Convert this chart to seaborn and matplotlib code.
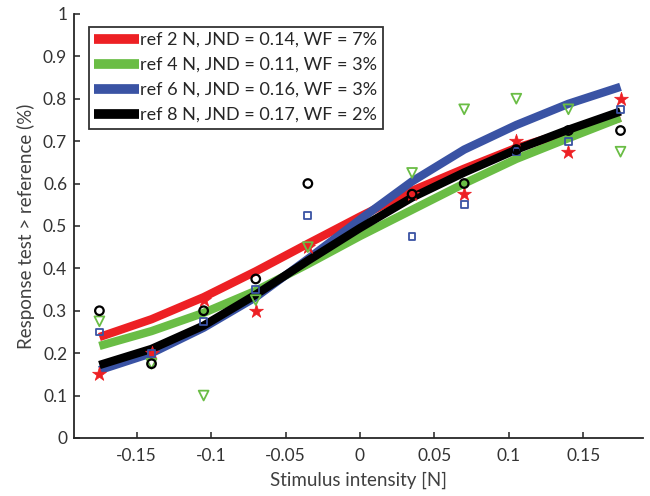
import numpy as np
import pandas as pd
import matplotlib
matplotlib.use("Agg")
import matplotlib.pyplot as plt
import seaborn as sns

# stimulus levels (test - reference) in N
stim = [-0.175, -0.14, -0.105, -0.07, -0.035, 0.035, 0.07, 0.105, 0.14, 0.175]

# measured proportions per reference force
resp_2N = [0.15, 0.2, 0.325, 0.3, 0.45, 0.575, 0.575, 0.7, 0.675, 0.8]
resp_4N = [0.275, 0.175, 0.1, 0.325, 0.45, 0.625, 0.775, 0.8, 0.775, 0.675]
resp_6N = [0.25, 0.2, 0.275, 0.35, 0.525, 0.475, 0.55, 0.675, 0.7, 0.775]
resp_8N = [0.3, 0.175, 0.3, 0.375, 0.6, 0.575, 0.6, 0.68, 0.725, 0.725]

# fitted psychometric curves
fit_x = [-0.175, -0.14, -0.105, -0.07, -0.035, 0.0, 0.035, 0.07, 0.105, 0.14, 0.175]
fit_2N = [0.238, 0.28, 0.332, 0.393, 0.458, 0.522, 0.583, 0.635, 0.684, 0.722, 0.755]
fit_4N = [0.217, 0.252, 0.295, 0.347, 0.41, 0.476, 0.538, 0.6, 0.658, 0.707, 0.755]
fit_6N = [0.16, 0.2, 0.26, 0.332, 0.422, 0.515, 0.605, 0.68, 0.738, 0.788, 0.828]
fit_8N = [0.172, 0.21, 0.265, 0.338, 0.418, 0.495, 0.567, 0.626, 0.68, 0.727, 0.77]

labels = ["ref 2 N, JND = 0.14, WF = 7%",
          "ref 4 N, JND = 0.11, WF = 3%",
          "ref 6 N, JND = 0.16, WF = 3%",
          "ref 8 N, JND = 0.17, WF = 2%"]
colors = ["#ED2024", "#6ABD45", "#3A53A4", "#000000"]

sns.set_style("ticks")
plt.rcParams["font.family"] = ["Lato", "DejaVu Sans"]
plt.rcParams["xtick.direction"] = "in"
plt.rcParams["ytick.direction"] = "in"

fig = plt.figure(figsize=(6.5, 4.96), dpi=100)
ax = fig.add_axes([0.114, 0.117, 0.875, 0.855])

fits = [fit_2N, fit_4N, fit_6N, fit_8N]

handles = []
for fit, col in zip(fits, colors):
    sns.lineplot(x=fit_x, y=fit, color=col, lw=6, ax=ax, zorder=2,
                 solid_joinstyle="round", solid_capstyle="butt")
    handles.append(ax.lines[-1])

# raw data markers
sns.scatterplot(x=stim, y=resp_2N, marker="*", s=110, color=colors[0],
                edgecolor=colors[0], linewidth=0.5, ax=ax, zorder=3)
sns.scatterplot(x=stim, y=resp_4N, marker="v", s=50, facecolor="none",
                edgecolor=colors[1], linewidth=1.3, ax=ax, zorder=3)
sns.scatterplot(x=stim, y=resp_6N, marker="s", s=24, facecolor="none",
                edgecolor=colors[2], linewidth=1.3, ax=ax, zorder=3)
sns.scatterplot(x=stim, y=resp_8N, marker="o", s=38, facecolor="none",
                edgecolor=colors[3], linewidth=1.6, ax=ax, zorder=3)

ax.set_xlim(-0.192, 0.19)
ax.set_ylim(0, 1)
ax.set_xticks([-0.15, -0.1, -0.05, 0, 0.05, 0.1, 0.15])
ax.set_xticklabels(["-0.15", "-0.1", "-0.05", "0", "0.05", "0.1", "0.15"])
ax.set_yticks(np.arange(0, 11) / 10)
ax.set_yticklabels(["0", "0.1", "0.2", "0.3", "0.4", "0.5", "0.6", "0.7",
                    "0.8", "0.9", "1"])
ax.tick_params(labelsize=12.5, colors="#333333", length=4, width=1.2)
ax.tick_params(axis="x", pad=7)
ax.tick_params(axis="y", pad=5)
sns.despine(ax=ax)
for s in ["left", "bottom"]:
    ax.spines[s].set_color("#262626")
    ax.spines[s].set_linewidth(1.3)

ax.set_xlabel("Stimulus intensity [N]", fontsize=13.5, color="#404040",
              labelpad=6)
ax.set_ylabel("Response test > reference (%)", fontsize=13.5, color="#404040",
              labelpad=6)

leg = ax.legend(handles, labels, loc="upper left", bbox_to_anchor=(0.026, 0.97),
                fontsize=13, handlelength=2.5, handletextpad=0.05,
                labelspacing=0.5, borderpad=0.3, fancybox=False,
                framealpha=1, borderaxespad=0)
leg.get_frame().set_edgecolor("#333333")
leg.get_frame().set_linewidth(1.3)
for h in leg.get_lines():
    h.set_linewidth(7)

fig.savefig("out.png", dpi=100)
